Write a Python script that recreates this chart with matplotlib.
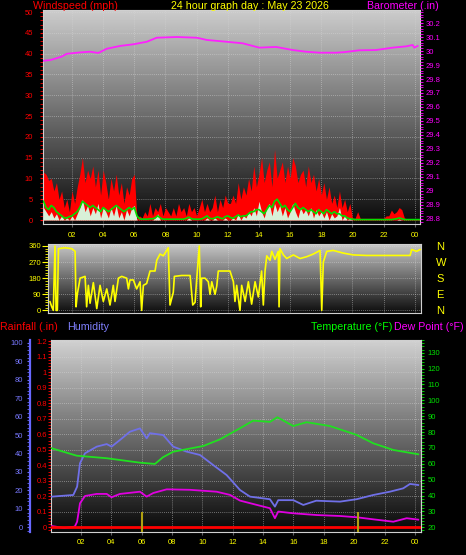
import numpy as np
import matplotlib
matplotlib.use("Agg")
import matplotlib.pyplot as plt
from matplotlib.ticker import MultipleLocator

W, H = 466, 555
plt.rcParams['font.family'] = ['Liberation Sans', 'DejaVu Sans']

# ---------------- data ----------------
hour_ticks = [2, 4, 6, 8, 10, 12, 14, 16, 18, 20, 22, 24]
hour_labels = ['02', '04', '06', '08', '10', '12', '14', '16', '18', '20', '22', '00']

# wind, 10 minute samples starting at 00:10
wind_start = 0.17
gust = [11.5, 11, 9.5, 10, 7, 9,
        5, 7, 3, 5, 2, 7,
        4, 8, 11, 15, 9, 12,
        10, 13, 8, 12, 6, 12,
        9, 5, 10, 7, 11, 6,
        9, 4, 8, 6, 10, 11,
        0.3, 1, 0.5, 2, 1, 4,
        1, 3, 2, 4, 1, 3,
        2, 1, 3, 1, 4, 2,
        3, 1, 4, 2, 3, 1,
        3, 5, 2, 4, 2, 3,
        6, 2, 5, 3, 6, 4,
        4, 6, 4, 9, 5, 8,
        6, 10, 7, 13, 8, 11,
        15, 9, 12, 14, 8, 17,
        10, 12, 14, 9, 13, 10,
        15, 13, 9, 11, 12, 8,
        13, 9, 11, 7, 10, 6,
        9, 5, 8, 4, 6, 3,
        7, 3, 5, 2, 4, 0.5,
        0.4, 2, 0.4, 0.4, 0.4, 0.4,
        0.4, 0.4, 0.4, 0.4, 0.4, 0.4,
        1, 1, 2.4, 1.5, 2, 3,
        2.5, 0.5, 0.3, 0.3, 0.3, 0.3,
        0.3, 0.3]
speed = [3, 2, 1, 2, 0.5, 1.5,
         0, 1, 0, 0.5, 0, 1,
         0, 1.5, 3, 5, 2, 3.5,
         1, 3, 1.5, 4, 0.5, 3,
         2, 0.5, 3, 1, 3.5, 0.5,
         2, 0, 2.5, 1, 3, 3.5,
         0, 0, 0, 0, 0, 0,
         0, 0.5, 1.5, 0, 0, 0,
         0, 0, 0, 0, 0, 0,
         0, 0, 0.5, 0, 0, 0,
         0, 0, 0, 0.5, 0, 0,
         0.5, 0, 0, 0, 0.5, 0,
         0, 0.5, 0, 1.5, 0, 1,
         0.5, 2, 1, 3, 1, 4.5,
         2, 0.5, 3, 4, 1, 4,
         2, 3.5, 1, 3, 0.5, 2,
         4, 2, 0.5, 3, 1.5, 2.5,
         1, 3, 0.5, 2.5, 1, 2,
         0.5, 2, 0, 1.5, 0.5, 1,
         3, 0, 1, 0, 0.5, 0,
         0, 0, 0, 0, 0, 0,
         0, 0, 0, 0, 0, 0,
         0, 0, 0, 0, 0, 0.2,
         0, 0, 0, 0, 0, 0,
         0, 0]
avg = [4.5, 3, 2.5, 3.5, 3, 2,
       1.5, 1, 0.5, 0.5, 0.8, 1,
       1.5, 2, 3, 4.5, 4, 3.5,
       3, 3.5, 3, 2.5, 2, 3,
       2.5, 2, 2.5, 3, 3.5, 3,
       2.5, 2, 2.5, 3, 2.5, 3,
       1, 0.3, 0.2, 0.2, 0.2, 0.3,
       0.3, 0.5, 1, 0.5, 0.2, 0.2,
       0.2, 0.2, 0.2, 0.2, 0.2, 0.2,
       0.2, 0.4, 0.7, 0.3, 0.2, 0.2,
       0.2, 0.3, 0.6, 1, 0.4, 0.3,
       0.5, 0.8, 0.5, 0.3, 0.8, 1,
       0.6, 0.4, 0.8, 1.2, 0.8, 1,
       1, 1.5, 2, 2, 2.5, 2.5,
       2, 1.5, 2.5, 3.5, 3, 4.5,
       5, 4, 3, 3.5, 2.5, 2,
       3, 4, 3, 2.5, 3, 2.5,
       2, 2.5, 2, 1.5, 2.5, 2,
       1.5, 2.5, 2, 1.5, 2, 1.5,
       1.5, 1, 1, 0.5, 0.3, 0.2,
       0.1, 0.1, 0.1, 0.1, 0.1, 0.1,
       0.1, 0.1, 0.1, 0.1, 0.1, 0.1,
       0.1, 0.1, 0.1, 0.2, 0.3, 0.5,
       0.3, 0.1, 0.1, 0.1, 0.1, 0.1,
       0.1, 0.1]

baro_hours = [0.14, 0.59, 0.91, 1.34, 1.66, 2.52, 3.16, 3.69, 4.23, 5.08, 5.94, 6.80,
              7.44, 8.72, 10.01, 10.65, 11.93, 12.96, 14.02, 15.1, 16.17, 17.02, 17.88,
              18.95, 19.48, 20.44, 21.51, 22.59, 23.44, 23.87, 23.97, 24.19]
baro = [29.93, 29.935, 29.945, 29.96, 29.98, 29.99, 29.995, 29.986, 30.016, 30.036,
        30.048, 30.066, 30.095, 30.10, 30.095, 30.079, 30.066, 30.055, 30.024, 30.029,
        30.007, 29.995, 29.988, 29.988, 29.992, 30.005, 30.007, 30.024, 30.033, 30.043,
        30.024, 30.036]

dir_hours = [0.59, 0.70, 0.80, 0.91, 0.98, 1.06, 1.13, 1.55, 1.98, 2.20, 2.26, 2.34,
             2.52, 2.84, 2.94, 3.05, 3.16, 3.37, 3.59, 3.80, 4.01, 4.23, 4.44, 4.65,
             4.76, 4.98, 5.19, 5.51, 5.62, 5.72, 5.94, 6.15, 6.37, 6.47, 6.58, 6.79,
             7.01, 7.33, 7.44, 7.65, 7.86, 8.08, 8.18, 8.29, 8.50, 8.57, 9.04, 9.58,
             9.75, 9.90, 10.0, 10.17, 10.26, 10.32, 10.54, 10.75, 10.86, 10.97, 11.18,
             11.29, 11.39, 12.14, 12.36, 12.46, 12.57, 12.78, 12.89, 13.11, 13.32,
             13.53, 13.75, 13.96, 14.17, 14.28, 14.39, 14.50, 14.71, 14.82, 15.03,
             15.24, 15.29, 15.35, 15.57, 15.78, 16.21, 16.64, 17.06, 17.49, 17.92,
             18.03, 18.13, 18.35, 18.77, 19.42, 20.06, 20.91, 23.70, 23.80, 24.12, 24.34]
direction = [48, 20, 0, 360, 0, 0, 345, 350, 345, 330, 20, 90,
             180, 190, 20, 140, 40, 155, 10, 140, 50, 120, 30, 140,
             50, 180, 190, 180, 120, 170, 170, 120, 160, 0, 140, 150,
             220, 220, 280, 315, 305, 335, 350, 30, 100, 190, 195, 195,
             30, 45, 170, 360, 20, 180, 180, 160, 90, 160, 90,
             135, 220, 220, 160, 50, 140, 0, 140, 50, 160,
             35, 160, 75, 220, 30, 220, 305, 280, 330, 285,
             330, 20, 345, 310, 290, 310, 290, 300, 315, 335,
             0, 270, 330, 335, 320, 310, 307, 307, 340, 330, 340]

temp_hours = [0.07, 1.72, 3.7, 5.89, 6.88, 7.4, 8.08, 10.06, 11.16, 12.48, 13.35,
              14.45, 14.94, 15.99, 16.87, 18.4, 20.16, 21.26, 22.58, 24.22]
temperature = [69.8, 65.1, 63.5, 60.7, 59.9, 64.1, 67.6, 71.2, 75.4, 82.4, 87.2,
               86.4, 89.3, 83.8, 86.2, 83.8, 78.2, 72.9, 68.7, 66.0]

hum_hours = [0.07, 1.5, 1.75, 1.94, 2.27, 3.04, 3.7, 4.02, 4.57, 5.23, 5.89, 6.33,
             6.55, 7.42, 8.08, 8.96, 9.84, 10.72, 11.6, 12.48, 13.14, 14.45, 14.78,
             15.0, 15.99, 16.65, 17.5, 19.07, 20.16, 21.26, 22.36, 23.23, 23.68, 24.22]
humidity = [16.6, 17.5, 22, 34.7, 40.1, 43.7, 45.1, 43.7, 47.3, 51.8, 53.6, 48.2,
            51.0, 50.0, 43.7, 41.0, 39.2, 33.7, 28.3, 20.2, 16.6, 15.2, 11.2,
            14.7, 14.7, 12.1, 14.4, 13.9, 15.2, 17.5, 19.3, 21.1, 23.5, 22.9]

dew_hours = [0.07, 0.9, 1.6, 1.75, 1.94, 2.27, 3.04, 3.7, 4.02, 4.57, 5.89, 6.33,
             6.77, 7.65, 9.18, 10.94, 11.82, 12.48, 13.58, 14.45, 14.78, 15.0, 15.99,
             17.53, 19.07, 20.16, 21.26, 22.58, 23.46, 24.22]
dewpoint = [20.8, 19.5, 20.4, 23.5, 35.1, 39.7, 41.0, 41.0, 38.9, 41.0, 42.4, 39.3,
            41.6, 43.9, 43.6, 42.4, 40.4, 36.8, 34.1, 32.0, 25.7, 29.9, 28.8,
            27.7, 27.1, 26.3, 25.0, 23.5, 25.7, 24.8]

rain_hours = [0.0, 24.4]
rainfall = [0.0, 0.0]
marker_hours = [6.0, 20.23]
marker_top = [0.1, 0.1]

# ---------------- layout helpers ----------------
fig = plt.figure(figsize=(W / 100, H / 100), dpi=100, facecolor='black')


def box(l, t, r, b):
    return [l / W, 1 - b / H, (r - l) / W, (b - t) / H]


def shade(ax, top, bottom):
    g = np.linspace(top, bottom, 256)[:, None]
    ax.imshow(g, cmap='gray', vmin=0, vmax=1, extent=[0, 1, 0, 1],
              transform=ax.transAxes, aspect='auto', zorder=0)


def grid(ax):
    ax.grid(True, color='#d8d8d8', ls=(0, (1, 1.5)), lw=0.6, alpha=0.6, zorder=1)


def hours_axis(ax, labels=True, pad=4):
    ax.set_xticks(hour_ticks)
    ax.set_xticklabels(hour_labels if labels else [])
    ax.tick_params(axis='x', colors='#606060', labelcolor='#ffff00', labelsize=5.5,
                   length=2, pad=pad)


tick_font = 5.5

# ---------------- panel 1: wind + barometer ----------------
ax1 = fig.add_axes(box(43, 10, 420, 224))
shade(ax1, 0.80, 0.04)
t = wind_start + np.arange(len(gust)) / 6
ax1.fill_between(t, 0, gust, color='#ff0000', lw=0, zorder=2)
ax1.fill_between(t, 0, speed, color='#d8f0d8', lw=0, zorder=3)
ax1.plot(t, avg, color='#00e000', lw=1.2, zorder=4)
ax1.set_xlim(0.14, 24.34)
ax1.set_ylim(-0.96, 50.5)
ax1.yaxis.set_major_locator(MultipleLocator(5))
ax1.yaxis.set_minor_locator(MultipleLocator(1))
ax1.tick_params(axis='y', which='both', colors='#ff0000', labelsize=tick_font,
                length=2, pad=5)
hours_axis(ax1)
grid(ax1)
for s in ax1.spines.values():
    s.set_color('#d0d0d0')
    s.set_linewidth(0.8)

ax1b = ax1.twinx()
ax1b.plot(baro_hours, baro, color='#ff20ff', lw=1.3, zorder=5)
ax1b.set_ylim(28.764, 30.293)
ax1b.set_yticks(np.round(np.arange(28.8, 30.25, 0.1), 1))
ax1b.set_yticklabels([f'{v:g}' for v in np.round(np.arange(28.8, 30.25, 0.1), 1)])
ax1b.yaxis.set_minor_locator(MultipleLocator(0.02))
ax1b.tick_params(axis='y', which='both', colors='#ff00ff', labelsize=tick_font,
                 length=2, pad=2)
for s in ax1b.spines.values():
    s.set_visible(False)

# ---------------- panel 2: wind direction ----------------
ax2 = fig.add_axes(box(48, 244, 421, 312.7))
shade(ax2, 0.78, 0.05)
ax2.plot(dir_hours, direction, color='#ffff00', lw=1.2, zorder=3)
ax2.set_xlim(0.46, 24.40)
ax2.set_ylim(-13, 371)
ax2.set_yticks([0, 90, 180, 270, 360])
ax2.yaxis.set_minor_locator(MultipleLocator(15))
ax2.tick_params(axis='y', which='major', colors='#ffff00', labelsize=tick_font,
                length=4, pad=1)
ax2.tick_params(axis='y', which='minor', colors='#ffff00', length=2)
hours_axis(ax2, labels=False)
ax2.tick_params(axis='x', length=0)
grid(ax2)
for s in ax2.spines.values():
    s.set_color('#d0d0d0')
    s.set_linewidth(0.8)

ax2r = ax2.twinx()
ax2r.set_ylim(-13, 371)
ax2r.set_yticks([0, 90, 180, 270, 360])
ax2r.set_yticklabels(['N', 'E', 'S', 'W', 'N'])
ax2r.tick_params(axis='y', colors='#ffff00', labelsize=8, length=0, pad=11)
for s in ax2r.spines.values():
    s.set_visible(False)

# ---------------- panel 3: rain, humidity, temperature ----------------
ax3 = fig.add_axes(box(51, 340, 420.5, 531.7))
shade(ax3, 0.82, 0.03)
ax3.set_xlim(0.03, 24.37)
ax3.set_ylim(-0.028, 1.208)
ax3.yaxis.set_minor_locator(MultipleLocator(0.02))
ax3.set_yticks(np.round(np.arange(0, 1.25, 0.1), 1))
ax3.set_yticklabels([f'{v:g}' for v in np.round(np.arange(0, 1.25, 0.1), 1)])
ax3.tick_params(axis='y', which='both', colors='#ff0000', labelsize=tick_font,
                length=2, pad=1)
hours_axis(ax3, pad=3)
grid(ax3)
for s in ax3.spines.values():
    s.set_color('#d0d0d0')
    s.set_linewidth(0.8)

ax3h = ax3.twinx()
ax3h.yaxis.set_ticks_position('left')
ax3h.yaxis.set_label_position('left')
ax3h.spines['left'].set_position(('outward', 14.8))
ax3h.spines['left'].set_color('#6868ff')
ax3h.spines['left'].set_linewidth(1.6)
for k in ['right', 'top', 'bottom']:
    ax3h.spines[k].set_visible(False)
ax3h.set_ylim(-2.4, 101.5)
ax3h.yaxis.set_major_locator(MultipleLocator(10))
ax3h.yaxis.set_minor_locator(MultipleLocator(2))
ax3h.tick_params(axis='y', which='both', colors='#6868ff', labelcolor='#7878ff',
                 labelsize=tick_font, length=2.5, pad=3)
ax3h.plot(hum_hours, humidity, color='#7070e8', lw=1.3, zorder=3)

ax3t = ax3.twinx()
for k in ['left', 'top', 'bottom']:
    ax3t.spines[k].set_visible(False)
ax3t.spines['right'].set_color('#d0d0d0')
ax3t.set_ylim(17.2, 138)
ax3t.yaxis.set_minor_locator(MultipleLocator(2))
ax3t.set_yticks(np.arange(20, 131, 10))
ax3t.tick_params(axis='y', which='both', colors='#00e000', labelsize=tick_font,
                 length=2.5, pad=2.5)
ax3t.plot(temp_hours, temperature, color='#20e020', lw=1.3, zorder=3)
ax3t.plot(dew_hours, dewpoint, color='#e000e0', lw=1.3, zorder=3)

# rain on top of everything
ax3r = ax3.twinx()
ax3r.set_ylim(ax3.get_ylim())
ax3r.axis('off')
ax3r.plot(rain_hours, rainfall, color='#ff0000', lw=2, zorder=4)
ax3r.vlines(marker_hours, -0.03, marker_top, color='#b0a010', lw=1.5, zorder=5)
ax3r.set_xlim(ax3.get_xlim())

# ---------------- titles ----------------
title_font = 7.7


def ftext(x, y, s, color, ha='left'):
    fig.text(x / W, 1 - y / H, s, color=color, fontsize=title_font, ha=ha, va='center')


ftext(33, 6, 'Windspeed (mph)', '#ff0000')
ftext(250, 6, '24 hour graph day : May 23 2026', '#ffff00', ha='center')
ftext(439, 6, 'Barometer (.in)', '#ff00ff', ha='right')
ftext(0, 327, 'Rainfall (.in)', '#ff0000')
ftext(67, 327, 'Humidity', '#8080ff')
ftext(392, 327, 'Temperature (°F)', '#00ff00', ha='right')
ftext(394, 327, 'Dew Point (°F)', '#ff00ff')

fig.savefig('out.png', dpi=100, facecolor='black')
